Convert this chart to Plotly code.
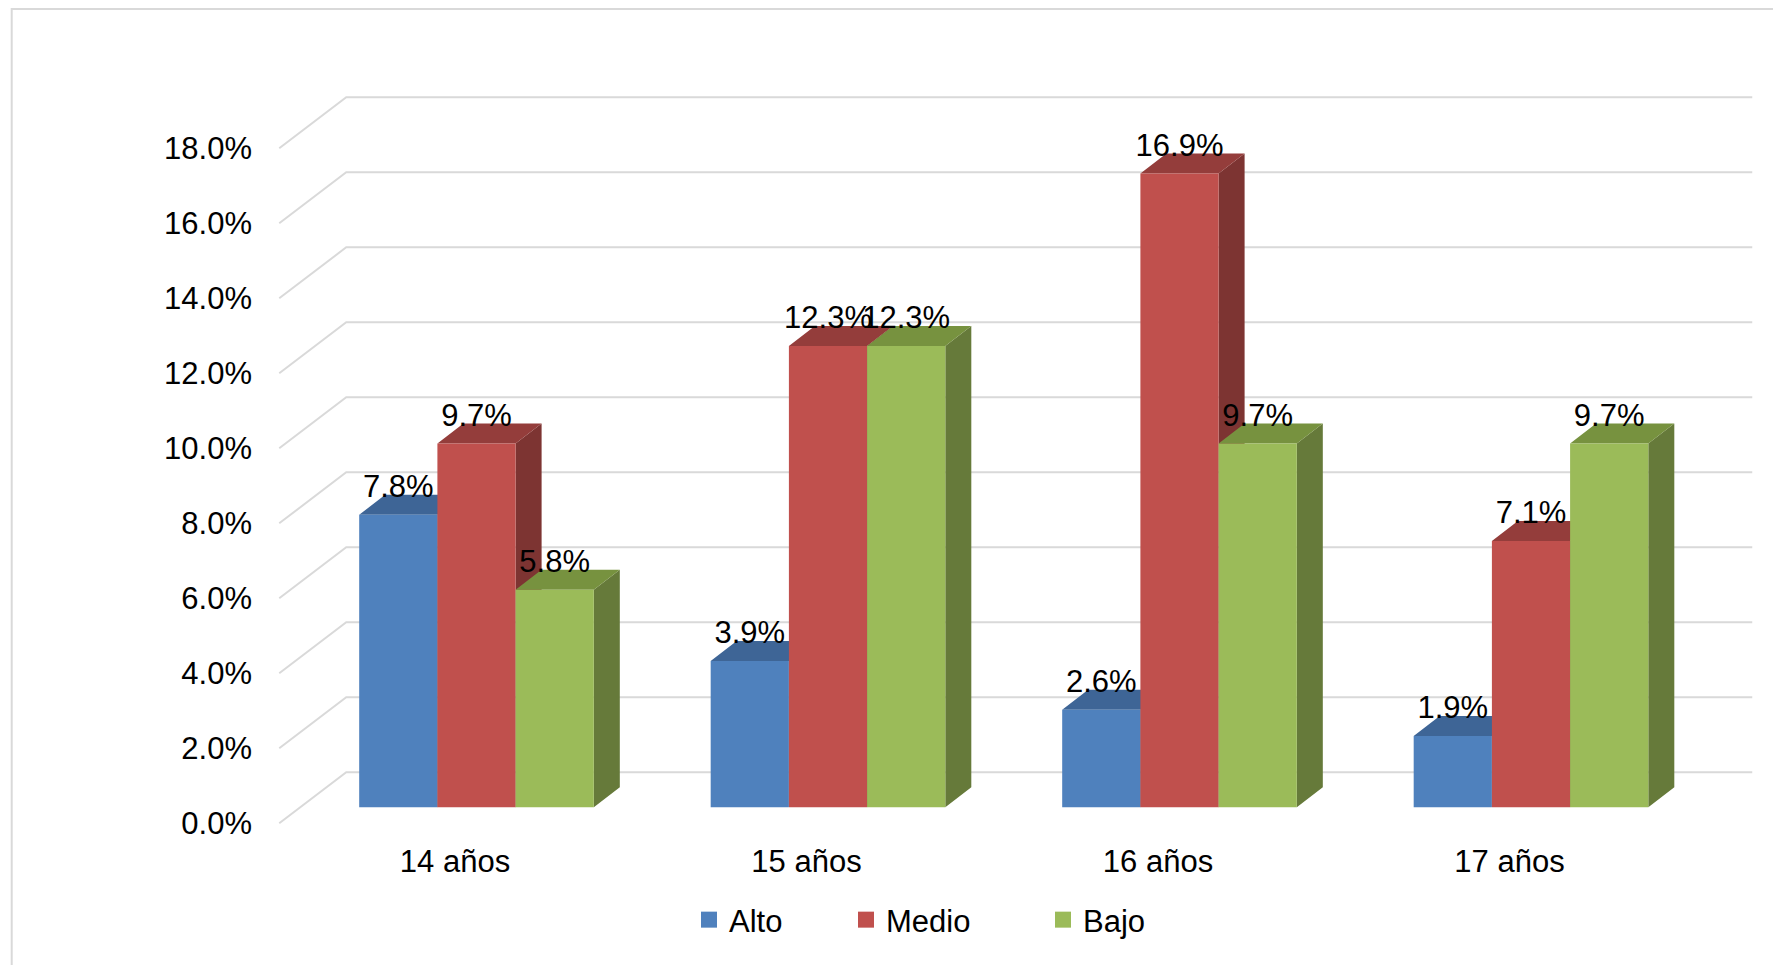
import plotly.graph_objects as go

# ---------------- data ----------------
categories = ["14 años", "15 años", "16 años", "17 años"]
series_names = ["Alto", "Medio", "Bajo"]
alto = [7.8, 3.9, 2.6, 1.9]
medio = [9.7, 12.3, 16.9, 7.1]
bajo = [5.8, 12.3, 9.7, 9.7]
y_ticks = [0, 2, 4, 6, 8, 10, 12, 14, 16, 18]
y_tick_text = ["0.0%", "2.0%", "4.0%", "6.0%", "8.0%", "10.0%", "12.0%", "14.0%", "16.0%", "18.0%"]

# ---------------- styles ----------------
front_colors = ["#4F81BD", "#C0504D", "#9BBB59"]
top_colors = ["#3E6596", "#943D3B", "#77923F"]
side_colors = ["#35587F", "#7D3432", "#667A3A"]
grid_color = "#D9D9D9"
FONT = "Liberation Sans, Arial, sans-serif"
FS = 31

W, H = 1773, 965
PX_CAT = 351.5      # pixels per category
PX_PCT = 37.5       # pixels per 1 %
CAT0_PX = 455.0     # x of first category on the front floor edge
ZERO_PX = 823.3     # y of 0 % on the front floor edge
PLOT_L = 253.0
PLOT_B = 840.0
LEGEND_X_PX = [689, 846, 1043]   # left edges of the three legend entries
LEGEND_Y_PX = 920


def dx(px):
    return px / PX_CAT


def dv(px):
    return px / PX_PCT


BACK = (dx(67), dv(51))        # front floor edge -> back wall
BAR_FRONT = (dx(21.5), dv(16))  # front floor edge -> bar front faces
DEPTH = (dx(26), dv(20))        # bar depth
GROUP_W = 0.6675
BAR_W = GROUP_W / 3
LABEL_OFF = dv(25.5)

x_range = [(PLOT_L - CAT0_PX) / PX_CAT, (W - CAT0_PX) / PX_CAT]
y_range = [(ZERO_PX - PLOT_B) / PX_PCT, ZERO_PX / PX_PCT]
x2_range = [x_range[0] - BAR_FRONT[0], x_range[1] - BAR_FRONT[0]]
y2_range = [y_range[0] - BAR_FRONT[1], y_range[1] - BAR_FRONT[1]]

series = [alto, medio, bajo]
ncat = len(categories)

fig = go.Figure()

# back wall + side wall gridlines
gx, gy = [], []
for v in y_ticks:
    gx += [-0.5, -0.5 + BACK[0], ncat - 0.5 + BACK[0], None]
    gy += [v, v + BACK[1], v + BACK[1], None]
fig.add_trace(go.Scatter(x=gx, y=gy, mode="lines", line=dict(color=grid_color, width=2),
                         hoverinfo="skip", showlegend=False, xaxis="x", yaxis="y"))

# 3D side faces, then top faces
for kind in ("side", "top"):
    for j, vals in enumerate(series):
        px_, py_ = [], []
        for i, v in enumerate(vals):
            xl = i + BAR_FRONT[0] - GROUP_W / 2 + j * BAR_W
            xr = xl + BAR_W
            base = BAR_FRONT[1]
            top = v + BAR_FRONT[1]
            if kind == "side":
                px_ += [xr, xr, xr + DEPTH[0], xr + DEPTH[0], xr, None]
                py_ += [base, top, top + DEPTH[1], base + DEPTH[1], base, None]
            else:
                px_ += [xl, xr, xr + DEPTH[0], xl + DEPTH[0], xl, None]
                py_ += [top, top, top + DEPTH[1], top + DEPTH[1], top, None]
        col = side_colors[j] if kind == "side" else top_colors[j]
        fig.add_trace(go.Scatter(x=px_, y=py_, mode="lines", fill="toself", fillcolor=col,
                                 line=dict(width=0, color=col), hoverinfo="skip",
                                 showlegend=False, xaxis="x", yaxis="y"))

# front faces: real bars on overlay axes
for j, vals in enumerate(series):
    fig.add_trace(go.Bar(x=list(range(ncat)), y=vals, name=series_names[j], offsetgroup=str(j),
                         marker=dict(color=front_colors[j], line=dict(width=0)),
                         showlegend=False, xaxis="x2", yaxis="y2"))

# data labels
for j, vals in enumerate(series):
    fig.add_trace(go.Scatter(
        x=[i - GROUP_W / 2 + (j + 0.5) * BAR_W for i in range(ncat)],
        y=[v + LABEL_OFF for v in vals],
        text=[f"{v:.1f}%" for v in vals], mode="text", textposition="middle center",
        textfont=dict(family=FONT, size=FS, color="black"),
        hoverinfo="skip", showlegend=False, xaxis="x2", yaxis="y2"))

# legend entries (one legend per entry to match spacing)
legend_names = ["legend", "legend2", "legend3"]
for j, name in enumerate(series_names):
    fig.add_trace(go.Scatter(x=[None], y=[None], mode="markers", name=name,
                             marker=dict(symbol="square", size=17, color=front_colors[j]),
                             legend=legend_names[j], xaxis="x2", yaxis="y2"))

legend_layout = {}
for j, ln in enumerate(legend_names):
    legend_layout[ln] = dict(orientation="h", x=LEGEND_X_PX[j] / W, xanchor="left",
                             y=1 - LEGEND_Y_PX / H, yanchor="middle", font=dict(size=FS),
                             bgcolor="rgba(0,0,0,0)")

fig.update_layout(
    width=W, height=H,
    margin=dict(l=0, r=0, t=0, b=0, autoexpand=False),
    paper_bgcolor="white", plot_bgcolor="rgba(0,0,0,0)",
    font=dict(family=FONT, size=FS, color="black"),
    barmode="group", bargap=1 - GROUP_W, bargroupgap=0,
    xaxis=dict(domain=[PLOT_L / W, 1], range=x_range, tickvals=list(range(ncat)),
               ticktext=categories, showgrid=False, zeroline=False, showline=False,
               ticks="", anchor="y", tickfont=dict(size=FS)),
    yaxis=dict(domain=[1 - PLOT_B / H, 1], range=y_range, tickvals=y_ticks,
               ticktext=y_tick_text, showgrid=False, zeroline=False,
               showline=False, ticks="", anchor="x", tickfont=dict(size=FS)),
    xaxis2=dict(overlaying="x", range=x2_range, visible=False, anchor="y2"),
    yaxis2=dict(overlaying="y", range=y2_range, visible=False, anchor="x2"),
    shapes=[dict(type="rect", xref="paper", yref="paper", x0=11.7 / W, x1=1.02,
                 y0=-0.05, y1=1 - 9 / H, line=dict(color=grid_color, width=2),
                 fillcolor="rgba(0,0,0,0)", layer="below")],
    showlegend=True,
    **legend_layout,
)

fig.write_html("out.html", config={"displayModeBar": False},
               post_script="document.body.style.margin='0';")
